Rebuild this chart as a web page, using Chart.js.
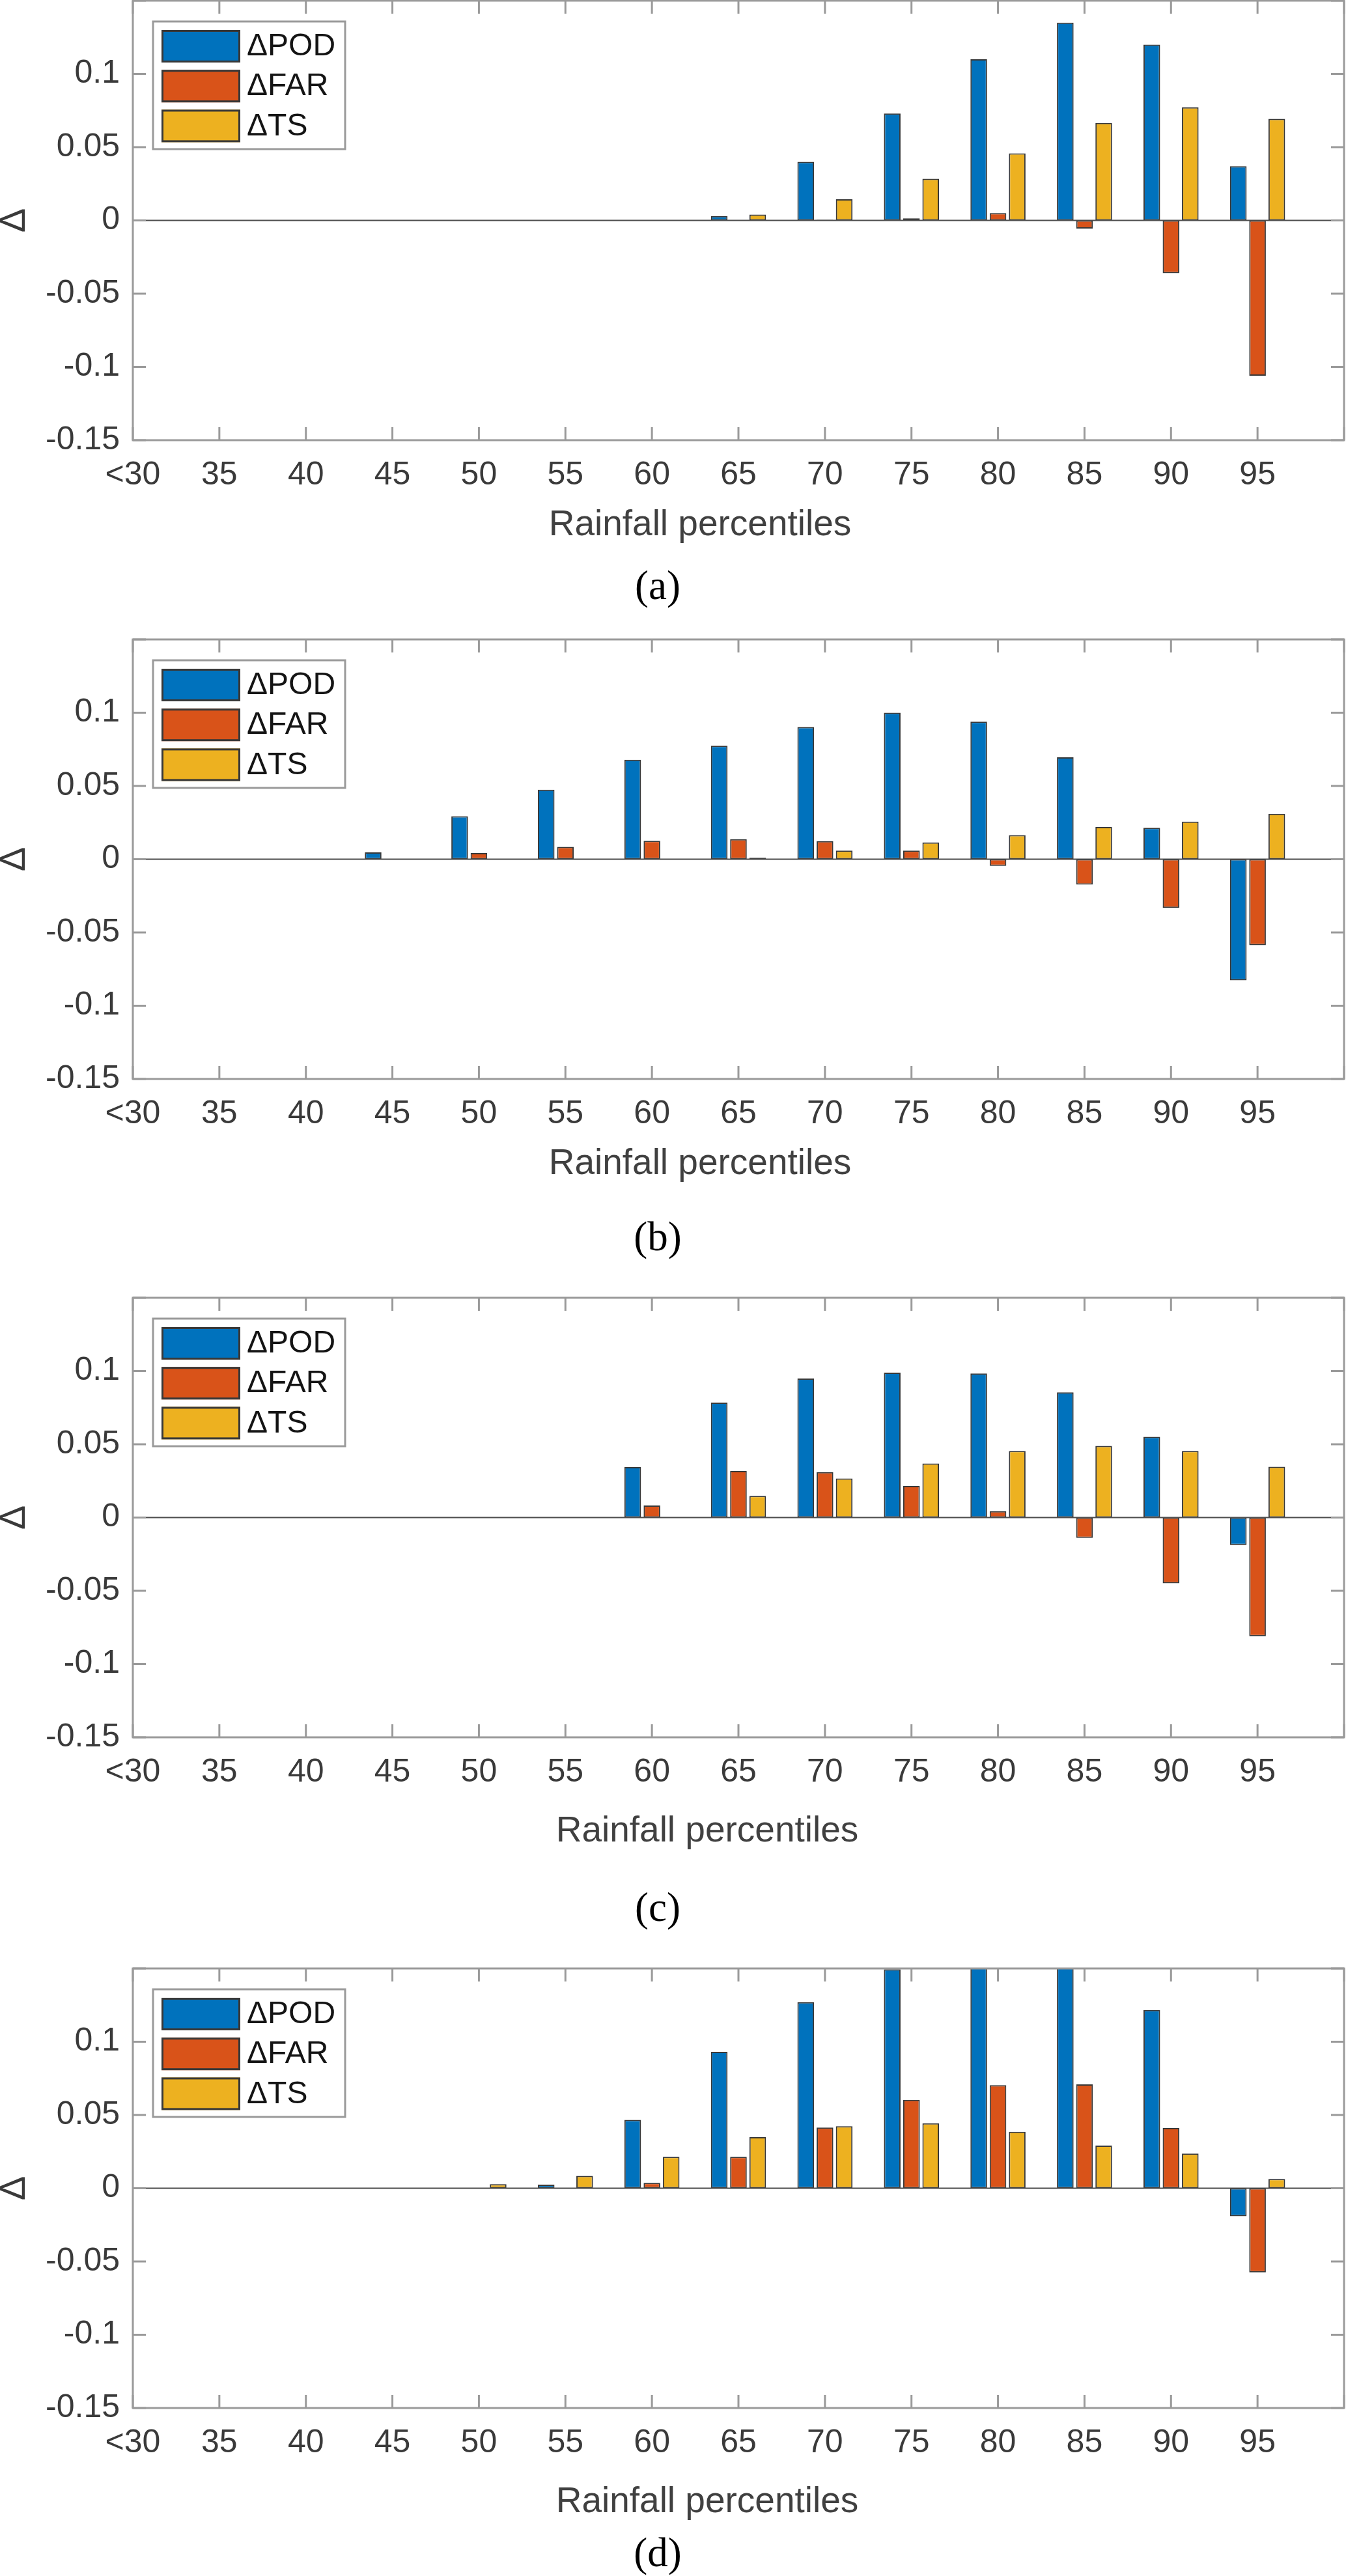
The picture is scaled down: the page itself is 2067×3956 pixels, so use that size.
<!DOCTYPE html>
<html lang="en">
<head>
<meta charset="utf-8">
<title>ΔPOD, ΔFAR and ΔTS by rainfall percentile</title>
<script src="https://cdn.jsdelivr.net/npm/chart.js@4.4.1/dist/chart.umd.min.js"></script>
<style>
  html, body { margin: 0; padding: 0; background: #fff; }
  #page { position: relative; width: 2067px; height: 3956px; overflow: hidden; background: #fff; }
  .panel { position: absolute; left: 0; }
  .xlabel, .caption { position: absolute; transform: translateX(-50%); white-space: nowrap; line-height: 1; }
  .xlabel { font-family: "Liberation Sans", Arial, sans-serif; font-size: 55px; color: #404040; }
  .caption { font-family: "Liberation Serif", "Times New Roman", serif; font-size: 63px; color: #000; }
</style>
</head>
<body>
<div id="page"></div>
<script>
// data
const categories = ["<30", "35", "40", "45", "50", "55", "60", "65", "70", "75", "80", "85", "90", "95"];
const seriesNames = ["ΔPOD", "ΔFAR", "ΔTS"];
const seriesColors = ["#0072BD", "#D95319", "#EDB120"];
const yMin = -0.15;
const yMax = 0.15;
const yStep = 0.05;
const xTitle = "Rainfall percentiles";
const yTitle = "Δ";
const panelLetters = ["(a)", "(b)", "(c)", "(d)"];

const podA = [0, 0, 0, 0, 0, 0, 0, 0.003, 0.040, 0.073, 0.110, 0.135, 0.120, 0.037];
const farA = [0, 0, 0, 0, 0, 0, 0, 0, 0.0005, 0.0015, 0.005, -0.0055, -0.036, -0.106];
const tsA  = [0, 0, 0, 0, 0, 0, 0, 0.004, 0.0145, 0.0285, 0.0458, 0.0666, 0.0772, 0.0693];

const podB = [0, 0, 0, 0.0047, 0.0293, 0.0475, 0.0679, 0.0774, 0.0902, 0.100, 0.0939, 0.0696, 0.0215, -0.0827];
const farB = [0, 0, 0, 0, 0.0042, 0.0084, 0.0126, 0.0137, 0.0123, 0.0059, -0.0045, -0.0173, -0.0332, -0.0587];
const tsB  = [0, 0, 0, 0, 0, 0, 0, 0.001, 0.0059, 0.0115, 0.0165, 0.022, 0.0257, 0.031];

const podC = [0, 0, 0, 0, 0, 0, 0.0344, 0.0784, 0.0949, 0.0989, 0.0983, 0.0855, 0.0551, -0.0188];
const farC = [0, 0, 0, 0, 0, 0, 0.0082, 0.0318, 0.031, 0.0216, 0.0043, -0.0139, -0.0449, -0.081];
const tsC  = [0, 0, 0, 0, 0, 0, 0, 0.0148, 0.0267, 0.0369, 0.0455, 0.0489, 0.0455, 0.0347];

const podD = [0, 0, 0, 0, 0, 0.0025, 0.0467, 0.0931, 0.127, 0.1495, 0.156, 0.154, 0.1217, -0.0191];
const farD = [0, 0, 0, 0, 0, 0, 0.0037, 0.0214, 0.0414, 0.0603, 0.0703, 0.0709, 0.0411, -0.0574];
const tsD  = [0, 0, 0, 0, 0.0028, 0.0085, 0.0215, 0.0349, 0.0423, 0.0443, 0.0386, 0.0291, 0.0237, 0.0063];

const panels = [
  [podA, farA, tsA],
  [podB, farB, tsB],
  [podC, farC, tsC],
  [podD, farD, tsD]
];

// page layout (pixels)
const plotTops = [1, 982, 1993, 3023];
const plotHeight = 675;
const padTop = 20;
const axisHeight = 80;
const leftWidth = 204;
const rightPad = 3;
const xLabelDrop = [146.5, 147, 160.5, 161];
const xLabelCenter = [1075, 1075, 1086, 1086];
const captionBase = [921, 1921, 2951, 3942];
const captionCenter = 1010;

const sansFont = '"Liberation Sans", Arial, sans-serif';
const axisGrey = "#9a9a9a";
const tickLen = 20;

Chart.defaults.font.family = sansFont;

// MATLAB-like box, inward ticks, zero baseline and the legend inside the axes
const matlabAxes = {
  id: "matlabAxes",
  afterDatasetsDraw(chart) {
    const { ctx, chartArea: a, scales: { x, y } } = chart;
    ctx.save();
    const y0 = y.getPixelForValue(0);
    ctx.strokeStyle = "#4d4d4d";
    ctx.lineWidth = 2;
    ctx.beginPath();
    ctx.moveTo(a.left, y0);
    ctx.lineTo(a.right, y0);
    ctx.stroke();

    ctx.strokeStyle = axisGrey;
    ctx.lineWidth = 3;
    ctx.strokeRect(a.left, a.top, a.right - a.left, a.bottom - a.top);
    ctx.beginPath();
    x.ticks.forEach((tick, i) => {
      const px = x.getPixelForTick(i);
      ctx.moveTo(px, a.bottom);
      ctx.lineTo(px, a.bottom - tickLen);
      ctx.moveTo(px, a.top);
      ctx.lineTo(px, a.top + tickLen);
    });
    y.ticks.forEach(tick => {
      const py = y.getPixelForValue(tick.value);
      ctx.moveTo(a.left, py);
      ctx.lineTo(a.left + tickLen, py);
      ctx.moveTo(a.right, py);
      ctx.lineTo(a.right - tickLen, py);
    });
    ctx.stroke();
    ctx.restore();
  },
  afterDraw(chart) {
    const { ctx, chartArea: a } = chart;
    const left = a.left + 31;
    const top = a.top + 32;
    ctx.save();
    ctx.fillStyle = "#fff";
    ctx.fillRect(left, top, 295, 196);
    ctx.strokeStyle = axisGrey;
    ctx.lineWidth = 3;
    ctx.strokeRect(left, top, 295, 196);
    ctx.font = `48px ${sansFont}`;
    ctx.textBaseline = "middle";
    chart.data.datasets.forEach((ds, i) => {
      const sy = top + 13 + i * 61.2;
      ctx.fillStyle = ds.backgroundColor;
      ctx.fillRect(left + 13, sy, 121, 50);
      ctx.strokeStyle = "#383838";
      ctx.lineWidth = 3;
      ctx.strokeRect(left + 14.5, sy + 1.5, 118, 47);
      ctx.fillStyle = "#141414";
      ctx.fillText(ds.label, left + 144, sy + 26);
    });
    ctx.restore();
  }
};

const formatTick = value => {
  const r = Math.round(value * 100) / 100;
  return r >= yMax - 0.001 ? "" : String(r);
};

const makeChart = (canvas, series) => new Chart(canvas, {
  type: "bar",
  data: {
    labels: [...categories, ""],
    datasets: series.map((values, i) => ({
      label: seriesNames[i],
      data: values,
      backgroundColor: seriesColors[i],
      borderColor: "#383838",
      borderWidth: 2,
      borderSkipped: false,
      clip: 0
    }))
  },
  options: {
    responsive: false,
    animation: false,
    devicePixelRatio: 1,
    categoryPercentage: 0.667,
    barPercentage: 0.865,
    layout: { padding: { top: padTop, right: rightPad, left: 0, bottom: 0 } },
    plugins: { legend: { display: false }, tooltip: { enabled: false } },
    scales: {
      x: {
        offset: false,
        grid: { display: false, drawTicks: false },
        border: { display: false },
        ticks: { autoSkip: false, maxRotation: 0, minRotation: 0, padding: 24, color: "#3a3a3a", font: { size: 50 } },
        afterFit: scale => {
          scale.height = axisHeight;
          scale.paddingLeft = 0;
          scale.paddingRight = 0;
        }
      },
      y: {
        min: yMin,
        max: yMax,
        grid: { display: false, drawTicks: false },
        border: { display: false },
        ticks: { stepSize: yStep, padding: 20, color: "#3a3a3a", font: { size: 50 }, callback: formatTick },
        title: { display: true, text: yTitle, color: "#3a3a3a", padding: 0, font: { size: 56, lineHeight: 0.8 } },
        afterFit: scale => {
          scale.width = leftWidth;
          scale.paddingTop = 0;
          scale.paddingBottom = 0;
        }
      }
    }
  },
  plugins: [matlabAxes]
});

const page = document.getElementById("page");

panels.forEach((series, i) => {
  const canvas = document.createElement("canvas");
  canvas.className = "panel";
  canvas.width = 2067;
  canvas.height = padTop + plotHeight + axisHeight;
  canvas.style.width = "2067px";
  canvas.style.height = `${canvas.height}px`;
  canvas.style.top = `${plotTops[i] - padTop}px`;
  page.appendChild(canvas);
  makeChart(canvas, series);

  const xl = document.createElement("div");
  xl.className = "xlabel";
  xl.textContent = xTitle;
  xl.style.left = `${xLabelCenter[i]}px`;
  xl.style.top = `${plotTops[i] + plotHeight + xLabelDrop[i] - 55 * 0.8465}px`;
  page.appendChild(xl);

  const cap = document.createElement("div");
  cap.className = "caption";
  cap.textContent = panelLetters[i];
  cap.style.left = `${captionCenter}px`;
  cap.style.top = `${captionBase[i] - 63 * 0.8375}px`;
  page.appendChild(cap);
});
</script>
</body>
</html>
